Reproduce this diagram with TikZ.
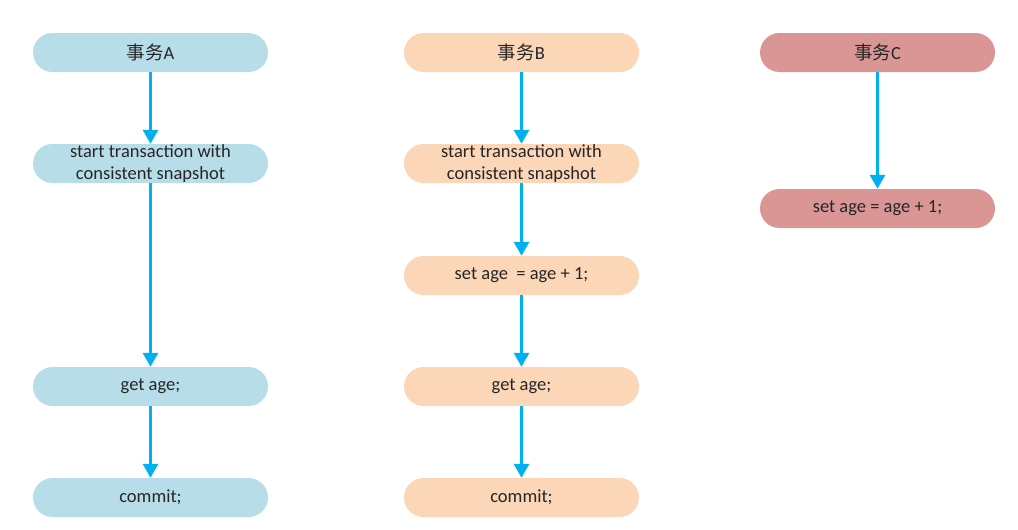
\documentclass[tikz,border=0pt]{standalone}
\usepackage{fontspec}
\setmainfont{Carlito}
\newfontfamily\cjk{Noto Sans CJK SC}
\usetikzlibrary{arrows.meta}
\definecolor{fillA}{HTML}{B7DDE8}
\definecolor{fillB}{HTML}{FBD6B7}
\definecolor{fillC}{HTML}{D99694}
\definecolor{arrowc}{HTML}{00B0F0}
\tikzset{
  box/.style={draw=none, rounded corners=19.5pt, minimum width=235pt, minimum height=39pt,
    inner sep=0pt, align=center, font=\fontsize{18.5}{22}\selectfont, text=black!85},
  boxA/.style={box, fill=fillA},
  boxB/.style={box, fill=fillB},
  boxC/.style={box, fill=fillC},
  flow/.style={draw=arrowc, line width=3pt, -{Triangle[width=15pt,length=14pt]}}
}
\begin{document}
\begin{tikzpicture}[x=1pt,y=-1pt]
\useasboundingbox (0,0) rectangle (1018,530);
% column A
\node[boxA] (a0) at (150.5,52.5) {{\cjk 事务}A};
\node[boxA] (a1) at (150.5,163.5) {start transaction with\\consistent snapshot};
\node[boxA] (a2) at (150.5,386.5) {get age;};
\node[boxA] (a3) at (150.5,497.5) {commit;};
% column B
\node[boxB] (b0) at (521.5,52.5) {{\cjk 事务}B};
\node[boxB] (b1) at (521.5,163.5) {start transaction with\\consistent snapshot};
\node[boxB] (b2) at (521.5,275.5) {set age\ \ = age + 1;};
\node[boxB] (b3) at (521.5,386.5) {get age;};
\node[boxB] (b4) at (521.5,497.5) {commit;};
% column C
\node[boxC] (c0) at (877.5,52.5) {{\cjk 事务}C};
\node[boxC] (c1) at (877.5,208.5) {set age = age + 1;};
% arrows
\draw[flow] (a0) -- (a1);
\draw[flow] (a1) -- (a2);
\draw[flow] (a2) -- (a3);
\draw[flow] (b0) -- (b1);
\draw[flow] (b1) -- (b2);
\draw[flow] (b2) -- (b3);
\draw[flow] (b3) -- (b4);
\draw[flow] (c0) -- (c1);
\end{tikzpicture}
\end{document}
